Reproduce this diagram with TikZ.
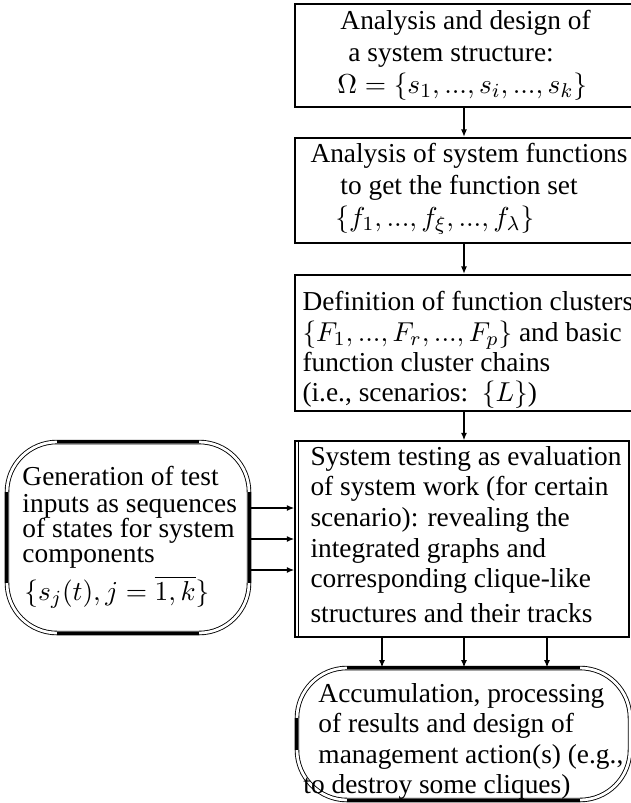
\documentclass[tikz,border=0pt]{standalone}
\usepackage[no-math]{fontspec}
\setmainfont{Liberation Serif}
\usetikzlibrary{arrows.meta}
\begin{document}
\begin{tikzpicture}[x=0.4pt,y=-0.4pt,
  box/.style={draw,line width=0.85pt,inner sep=0,rectangle},
  tbox/.style={draw,line width=0.55pt,inner sep=0,rectangle},
  ovl/.style={draw,line width=0.35pt,double,double distance=1.1pt,rounded corners=20pt,inner sep=0,rectangle},
  thk/.style={line width=1.1pt},
  arr/.style={line width=0.55pt,-{Latex[length=3pt,width=2.4pt]}},
  txt/.style={inner sep=0,font=\fontsize{10.95}{13}\selectfont,anchor=base west,text height=6.8pt,text depth=1.8pt}]
\useasboundingbox (0,0) rectangle (631,803);

% boxes
\node[box,minimum width=135.2pt,minimum height=41.2pt] (b1) at (464,55.5) {};
\node[box,minimum width=135.2pt,minimum height=42pt] (b2) at (464,190.5) {};
\node[box,minimum width=135.2pt,minimum height=54.4pt] (b3) at (464,343) {};
\node[tbox,minimum width=133.6pt,minimum height=78.4pt] (test) at (462,539) {};
\draw[line width=0.55pt] ([xshift=1.6pt]test.north west) -- ([xshift=1.6pt]test.south west);
\node[ovl,minimum width=96.8pt,minimum height=76.4pt] (gen) at (128,537.5) {};
\node[ovl,minimum width=133.2pt,minimum height=52.8pt] (acc) at (463.5,734) {};

% thick straight parts of the ovals
\draw[thk] ([xshift=20pt]gen.north west) -- ([xshift=-20pt]gen.north east);
\draw[thk] ([xshift=20pt]gen.south west) -- ([xshift=-20pt]gen.south east);
\draw[thk] ([yshift=-20pt]gen.north west) -- ([yshift=20pt]gen.south west);
\draw[thk] ([yshift=-20pt]gen.north east) -- ([yshift=20pt]gen.south east);
\draw[thk] ([xshift=20pt]acc.north west) -- ([xshift=-20pt]acc.north east);
\draw[thk] ([xshift=20pt]acc.south west) -- ([xshift=-20pt]acc.south east);
\draw[thk] ([yshift=-20pt]acc.north west) -- ([yshift=20pt]acc.south west);

% texts
\node[txt] (t11) at (340,29) {Analysis and design of};
\node[txt] (t12) at (348,61) {a system structure:};
\node[txt] (t13) at (337,93) {$\Omega=\{s_1,...,s_i,...,s_k\}$};

\node[txt] (t21) at (310,162) {Analysis of system functions};
\node[txt] (t22) at (340,194) {to get the function set};
\node[txt] (t23) at (335,226) {$\{f_1,...,f_\xi,...,f_\lambda\}$};

\node[txt] (t31) at (302,310) {Definition of function clusters};
\node[txt] (t32) at (302,341) {$\{F_1,...,F_r,...,F_p\}$ and basic};
\node[txt] (t33) at (302,371) {function cluster chains};
\node[txt] (t34) at (302,401) {(i.e., scenarios:\ \ $\{L\}$)};

\node[txt] (t41) at (310,465) {System testing as evaluation};
\node[txt] (t42) at (310,495) {of system work (for certain};
\node[txt] (t43) at (310,526) {scenario): revealing the};
\node[txt] (t44) at (310,557) {integrated graphs and};
\node[txt] (t45) at (310,587) {corresponding clique-like};
\node[txt] (t46) at (310,622) {structures and their tracks};

\node[txt] (t51) at (22,485) {Generation of test};
\node[txt] (t52) at (22,512) {inputs as sequences};
\node[txt] (t53) at (22,537) {of states for system};
\node[txt] (t54) at (22,562) {components};
\node[txt] (t55) at (24,600) {$\{s_j(t),j=\overline{1,k}\}$};

\node[txt] (t61) at (318,702) {Accumulation, processing};
\node[txt] (t62) at (318,732) {of results and design of};
\node[txt] (t63) at (318,763) {management action(s) (e.g.,};
\node[txt] (t64) at (303,793) {to destroy some cliques)};

% connectors
\draw[arr] (b1.south -| 464,0) -- (b2.north -| 464,0);
\draw[arr] (b2.south -| 464,0) -- (b3.north -| 464,0);
\draw[arr] (b3.south -| 464,0) -- (test.north -| 464,0);
\foreach \yy in {508,539,570}
  \draw[arr] (gen.east |- 0,\yy) -- (test.west |- 0,\yy);
\foreach \xx in {382,464,547}
  \draw[arr] (test.south -| \xx,0) -- (acc.north -| \xx,0);
\end{tikzpicture}
\end{document}
